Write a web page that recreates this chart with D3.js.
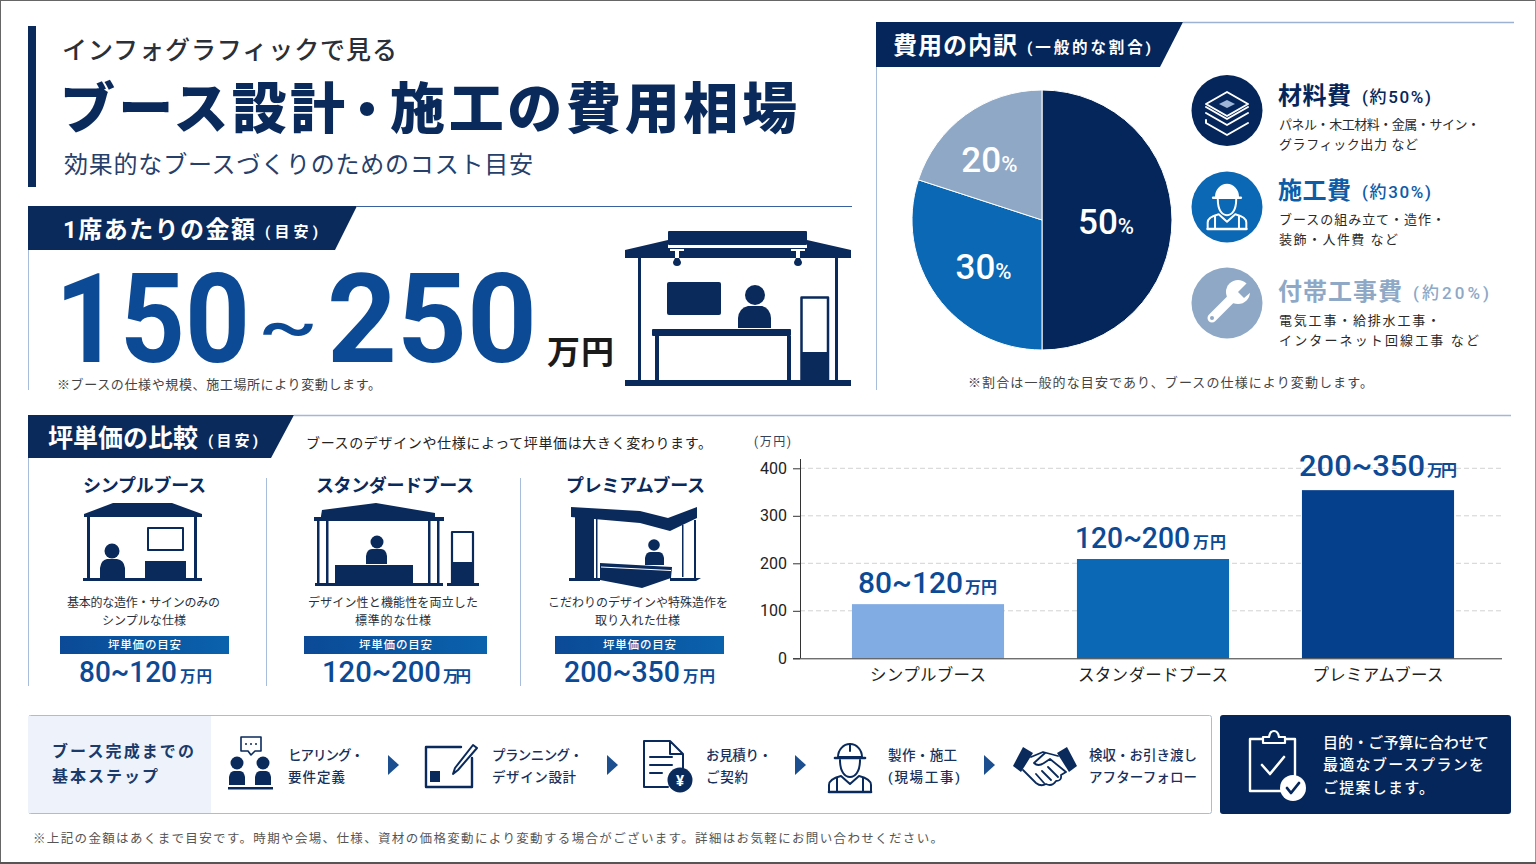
<!DOCTYPE html>
<html lang="ja"><head><meta charset="utf-8"><title>ブース設計・施工の費用相場</title>
<script src="https://cdn.jsdelivr.net/npm/d3@7"></script>
<style>html,body{margin:0;padding:0;background:#fff}svg{display:block}text{font-family:Roboto,"Noto Sans CJK JP","Noto Sans",sans-serif}</style>
</head><body><svg id="c" width="1536" height="864" viewBox="0 0 1536 864"></svg>
<script>
// ---- data ----
const pieNames = ["材料費","施工費","付帯工事費"];
const pieValues = [50,30,20];
const pieNotes = ["(約50%)","(約30%)","(約20%)"];
const pieDesc = [["パネル・木工材料・金属・サイン・","グラフィック出力 など"],["ブースの組み立て・造作・","装飾・人件費 など"],["電気工事・給排水工事・","インターネット回線工事 など"]];
const categories = ["シンプルブース","スタンダードブース","プレミアムブース"];
const barValues = [114,209,354];
const rangeLabels = ["80~120","120~200","200~350"];
const yTicks = [0,100,200,300,400];
const catDesc = [["基本的な造作・サインのみの","シンプルな仕様"],["デザイン性と機能性を両立した","標準的な仕様"],["こだわりのデザインや特殊造作を","取り入れた仕様"]];
const stepLabels = [["ヒアリング・","要件定義"],["プランニング・","デザイン設計"],["お見積り・","ご契約"],["製作・施工","(現場工事)"],["検収・お引き渡し","アフターフォロー"]];
const ctaLines = ["目的・ご予算に合わせて","最適なブースプランを","ご提案します。"];

// ---- palette ----
const NAVY="#0a2a5c", NAVY2="#04265a", BLUE="#0a68b4", DEEP="#0d4a96", GREY="#8ea8c6", LINE="#a8bcdc", BARS=["#80abe3","#0a68b4","#05408c"];
const svg=d3.select("#c");
const defs=svg.append("defs");
const grad=defs.append("linearGradient").attr("id","pill");
grad.append("stop").attr("offset","0").attr("stop-color","#0b4a96");
grad.append("stop").attr("offset","1").attr("stop-color","#0a62ad");

function T(p,x,y,s,o={}){
  const t=p.append("text").attr("x",x).attr("y",y).text(s)
    .attr("font-size",o.fs||14).attr("font-weight",o.fw||400).attr("fill",o.fill||"#222");
  if(o.a)t.attr("text-anchor",o.a);
  if(o.w){
    if(o.sq){
      const natural=t.node().getComputedTextLength();
      t.attr("x",0).attr("y",0).attr("transform",`translate(${x},${y}) scale(${o.w/natural},1)`);
    } else t.attr("textLength",o.w).attr("lengthAdjust","spacing");
  }
  return t;
}
const R=(p,x,y,w,h,f,rx)=>p.append("rect").attr("x",x).attr("y",y).attr("width",w).attr("height",h).attr("fill",f).attr("rx",rx||0);
const P=(p,d,f,s,sw)=>p.append("path").attr("d",d).attr("fill",f||"none").attr("stroke",s||"none").attr("stroke-width",sw||0).attr("stroke-linejoin","round").attr("stroke-linecap","round");
const C=(p,x,y,r,f)=>p.append("circle").attr("cx",x).attr("cy",y).attr("r",r).attr("fill",f);
const L=(p,x1,y1,x2,y2,s,sw)=>p.append("line").attr("x1",x1).attr("y1",y1).attr("x2",x2).attr("y2",y2).attr("stroke",s).attr("stroke-width",sw||1);

// ---- frame ----
L(svg,0,0.5,1536,0.5,"#666",1);L(svg,0.5,0,0.5,864,"#666",1);L(svg,1535.5,0,1535.5,864,"#999",1);L(svg,0,863,1536,863,"#555",2);

// ---- title ----
R(svg,28,26,8,161,NAVY);
T(svg,62,59,"インフォグラフィックで見る",{fs:25,fw:500,fill:"#2b2f38",w:335});
T(svg,60,128,"ブース設計",{fs:55,fw:900,fill:NAVY,w:285});
T(svg,367,128,"・",{fs:50,fw:900,fill:NAVY,a:"middle"});
T(svg,390,128,"施工の費用相場",{fs:55,fw:900,fill:NAVY,w:407});
T(svg,64,173,"効果的なブースづくりのためのコスト目安",{fs:24,fill:"#26406a",w:469});

// ---- per-seat section ----
P(svg,"M28,206H357L335,250H28Z",NAVY);
L(svg,357,206.5,852,206.5,"#3a619f",1);L(svg,28.5,250,28.5,390,LINE,1);
T(svg,63,238,"1席あたりの金額",{fs:24,fw:700,fill:"#fff",w:192});
T(svg,265,237,"(目安)",{fs:15,fw:700,fill:"#fff",w:53});
T(svg,55,362,"150",{fs:125,fw:700,fill:DEEP,w:195,sq:1});
T(svg,258,348,"~",{fs:64,fw:500,fill:DEEP,w:60,sq:1});
T(svg,327,362,"250",{fs:125,fw:700,fill:DEEP,w:210,sq:1});
T(svg,547,364,"万円",{fs:33,fw:700,fill:"#1a1a1a",w:67});
T(svg,57,389,"※ブースの仕様や規模、施工場所により変動します。",{fs:13,fill:"#444",w:324});

// big booth
(function(){const g=svg.append("g"),c=NAVY;
 R(g,668,231,139,14,c,1);
 P(g,"M668,240L625,250V258H851V250L807,240V248H668Z",c);
 L(g,668,246.5,807,246.5,"#fff",1.5);
 [677,798].forEach(x=>{R(g,x-7,249,14,2,"#fff");R(g,x-2,251,4,7,"#fff");P(g,`M${x-2},258h4l2,4a4,4 0 0 1-8,0z`,c);});
 R(g,638,258,3,124,c);R(g,835,258,3,124,c);
 R(g,667,282,54,33,c,2);
 C(g,755,295,10,c);P(g,"M738,328V318Q739,308 748,306H762Q770,308 771,318V328Z",c);
 R(g,652,329,139,7,c,1);R(g,655,336,4,46,c);R(g,787,336,4,46,c);
 P(g,"M801.5,297.5H828V380H801.5Z","none",c,2.5);R(g,801,352,28,30,c);
 R(g,625,380,226,6,c);
})();

// ---- breakdown section ----
P(svg,"M876,22H1183L1160,67H876Z",NAVY2);
L(svg,1183,22.5,1514,22.5,"#9db2d3",1.5);L(svg,876.5,67,876.5,390,LINE,1);
T(svg,893,54,"費用の内訳",{fs:24,fw:700,fill:"#fff",w:124});
T(svg,1027,53,"(一般的な割合)",{fs:15.5,fw:700,fill:"#fff",w:124});

const pieCols=[NAVY2,BLUE,GREY];
const pieG=svg.append("g").attr("transform","translate(1042,220)");
const arcs=d3.pie().sort(null)(pieValues);
const arc=d3.arc().innerRadius(0).outerRadius(130);
pieG.selectAll("path").data(arcs).join("path").attr("d",arc).attr("fill",(d,i)=>pieCols[i]).attr("stroke","#fff").attr("stroke-width",1);
const labelR=[64,76,76], labelOff=[[0,14],[3,14],[-8,13]];
pieG.selectAll("text").data(arcs).join("text").each(function(d,i){
  const [x,y]=d3.arc().innerRadius(labelR[i]).outerRadius(labelR[i]).centroid(d);
  const t=d3.select(this).attr("x",x+labelOff[i][0]).attr("y",y+labelOff[i][1]).attr("text-anchor","middle").attr("fill","#fff").attr("font-weight",500);
  t.append("tspan").attr("font-size",35).text(pieValues[i]);
  t.append("tspan").attr("font-size",22).text("%");
});

const legY=[110.5,207,303], legBase=[104,199,300], legNoteX=[1362,1362,1413], legNameW=[73,73,124], legNoteW=[69,69,76], legCols=[NAVY2,"#0d5ca8",GREY];
const descB=[[129,149],[224,244],[325,345]], descW=[[201,139],[166,119],[161,200]];
pieNames.forEach((n,i)=>{
  C(svg,1227,legY[i],35.5,i==0?NAVY2:pieCols[i]);
  T(svg,1278,legBase[i],n,{fs:24,fw:700,fill:legCols[i],w:legNameW[i]});
  T(svg,legNoteX[i],legBase[i]-1,pieNotes[i],{fs:17,fw:500,fill:legCols[i],w:legNoteW[i]});
  pieDesc[i].forEach((s,j)=>T(svg,1279,descB[i][j],s,{fs:13,fill:"#2a2a2a",w:descW[i][j]}));
});
T(svg,968,387,"※割合は一般的な目安であり、ブースの仕様により変動します。",{fs:13,fill:"#444",w:405});

function worker(g,cx,top,k,col,fillHelmet){
  const w=g.append("g").attr("transform",`translate(${cx},${top}) scale(${k})`);
  const sw=2/k;
  P(w,"M-12,15A12,13 0 0 1 12,15Z",fillHelmet?col:"none",col,sw);
  if(!fillHelmet)P(w,"M0,2V9",null,col,sw);
  P(w,"M-15,16H15",null,col,sw*1.3);
  P(w,"M-10,18C-10,30 -5,35 0,35C5,35 10,30 10,18",null,col,sw);
  P(w,"M-21,50V43Q-21,37 -9,34L0,42L9,34Q21,37 21,43V50Z",null,col,sw);
  P(w,"M-13,36V50M13,36V50",null,col,sw);
  P(w,"M-21,50H21",null,col,sw*1.3);
}
// icon layers
(function(){const g=svg.append("g").attr("transform","translate(1227,110)");
 const d="M0,-18L21,-6L0,6L-21,-6Z";
 P(g,"M-21,3L0,15L21,3",null,"#fff",2);
 P(g,"M-21,10V13L0,25L21,13",null,"#fff",2);
 P(g,"M-21,-3L0,9L21,-3",null,"#fff",2);
 P(g,d,NAVY2,"#fff",2);
 P(g,"M0,-10L8,-6L0,-2L-8,-6Z","#9db6d8");
})();
worker(svg,1227,183,0.92,"#fff",true);
// wrench
(function(){const g=svg.append("g");
 P(g,"M1212,318L1234,296",null,"#fff",9);
 C(g,1238,292,12,"#fff");
 P(g,"M1238,292L1252,278L1258,286L1244,298Z",GREY);
 C(g,1212,318,2,GREY);
})();

// ---- comparison section ----
P(svg,"M28,415H294L271,458H28Z",NAVY);
L(svg,294,415.5,1511,415.5,"#a3b7d6",1.5);L(svg,28.5,458,28.5,686,LINE,1);
T(svg,48,447,"坪単価の比較",{fs:25,fw:700,fill:"#fff",w:150});
T(svg,208,446,"(目安)",{fs:15,fw:700,fill:"#fff",w:50});
T(svg,306,448,"ブースのデザインや仕様によって坪単価は大きく変わります。",{fs:14,fill:"#222",w:406});
[266.5,520.5].forEach(x=>L(svg,x,478,x,686,LINE,1));

const colTitleX=[83,316,566], colTitleW=[123,158,139];
const descX=[[67,102],[308,355],[548,595]], descTW=[[153,84],[170,76],[180,85]];
const pillX=[60,304,555], pillW=[169,183,169];
const valX=[79,322,564], valW=[98,119,116], unitX=[180,443,683], unitW=[32,28,32];
categories.forEach((n,i)=>{
  T(svg,colTitleX[i],492,n,{fs:18,fw:700,fill:NAVY,w:colTitleW[i]});
  catDesc[i].forEach((s,j)=>T(svg,descX[i][j],607+j*18,s,{fs:12,fill:"#2a2f3a",w:descTW[i][j]}));
  R(svg,pillX[i],636,pillW[i],18,"url(#pill)");
  T(svg,pillX[i]+pillW[i]/2-36.5,649,"坪単価の目安",{fs:11.5,fw:500,fill:"#fff",w:73});
  T(svg,valX[i],682,rangeLabels[i],{fs:29,fw:500,fill:DEEP,w:valW[i],sq:1});
  T(svg,unitX[i],682,"万円",{fs:15.5,fw:700,fill:DEEP,w:unitW[i]});
});
// small booths
(function(){let g=svg.append("g"),c=NAVY;
 P(g,"M113,503H172L202,514V517H84V514Z",c);
 R(g,87,515,3,65,c);R(g,194,515,3,65,c);
 P(g,"M148,528H183V550H148Z","none",c,2);
 C(g,112,551,7.5,c);P(g,"M100,578V568Q101,560 107,559H117Q124,560 125,568V578Z",c);
 R(g,145,561,41,18,c);R(g,83,578,119,3,c);
 g=svg.append("g");
 P(g,"M321,516L322,510L376,503L435,513V517H321Z",c);
 R(g,314,517,130,4,c);
 [317,326,428,437].forEach(x=>R(g,x,521,2.5,63,c));
 C(g,377,542,6.5,c);P(g,"M366,564V556Q367,549 372,549H381Q386,549 387,556V564Z",c);
 R(g,335,565,78,19,c);R(g,315,583,128,3,c);
 P(g,"M452,532H473V583H452Z","none",c,2.2);R(g,451,562,23,21,c);R(g,447,583,32,3,c);
 g=svg.append("g");
 P(g,"M571,507L640,511L668,518L697,507V518L670,531L640,523L571,517Z",c);
 R(g,575,516,19,62,c);R(g,596,518,1.5,60,c);R(g,682,525,1.5,52,c);R(g,694,520,2,58,c);
 C(g,654,545,5.8,c);P(g,"M645,565V558Q646,552 650,552H659Q663,552 664,558V565Z",c);
 P(g,"M600,563L672,567L671,578L642,588L600,580Z",c);
 L(g,601,567,671,570.5,"#fff",1);
 P(g,"M569,578H600V581H569ZM670,578H701L696,581H670Z",c);
})();

// ---- bar chart ----
const x=d3.scaleBand().domain(categories).range([815.5,1490.5]).paddingInner(0.324).paddingOuter(0.162);
const y=d3.scaleLinear().domain([0,400]).range([658.3,468.3]);
T(svg,754,446,"(万円)",{fs:12,fill:"#33415c",w:37});
svg.append("g").selectAll("line").data(yTicks.filter(d=>d>0)).join("line")
  .attr("x1",800).attr("x2",1502).attr("y1",d=>y(d)).attr("y2",d=>y(d))
  .attr("stroke","#d2d2d2").attr("stroke-dasharray","5 3");
svg.append("g").selectAll("rect").data(barValues).join("rect")
  .attr("x",(d,i)=>x(categories[i])).attr("width",x.bandwidth())
  .attr("y",d=>y(d)).attr("height",d=>y(0)-y(d)).attr("fill",(d,i)=>BARS[i]);
const yAxis=svg.append("g").attr("transform","translate(800,0)")
  .call(d3.axisLeft(y).tickValues(yTicks).tickSize(7).tickPadding(6));
yAxis.select(".domain").attr("d",`M0.5,459V${y(0)}`).attr("stroke","#333");
yAxis.selectAll(".tick line").attr("stroke","#333");
yAxis.selectAll("text").attr("font-size",16).attr("fill","#222");
const xAxis=svg.append("g").attr("transform",`translate(0,${y(0)})`)
  .call(d3.axisBottom(x).tickSize(0).tickPadding(8));
xAxis.select(".domain").attr("d",`M793,0.5H1502`).attr("stroke","#333");
const xW=[116,150,131];
xAxis.selectAll("text").attr("font-size",16.5).attr("fill","#222").attr("dy",0).attr("y",23)
  .each(function(d,i){d3.select(this).attr("textLength",xW[i]).attr("lengthAdjust","spacing");});
const barNumW=[105,115,126], barNumOff=[-70,-78,-79], barUnitOff=[37,40,49], barUnitW=[32,33,30];
barValues.forEach((v,i)=>{
  const cx=x(categories[i])+x.bandwidth()/2, b=y(v)-11-(i==2?3:0);
  T(svg,cx+barNumOff[i],b,rangeLabels[i],{fs:30,fw:500,fill:DEEP,w:barNumW[i],sq:1});
  T(svg,cx+barUnitOff[i],b,"万円",{fs:16,fw:700,fill:DEEP,w:barUnitW[i]});
});

// ---- steps ----
R(svg,28.5,715.5,1183,98,"#fff",2).attr("stroke",LINE);
R(svg,28,716,183,97,"#eef3fb");
T(svg,52,757,"ブース完成までの",{fs:16,fw:700,fill:"#1b3a6a",w:142});
T(svg,52,782,"基本ステップ",{fs:16,fw:700,fill:"#1b3a6a",w:106});
const stepX=[288,492,706,888,1089], stepW=[[76,57],[91,84],[66,42],[69,72],[108,108]];
stepLabels.forEach((ls,i)=>ls.forEach((s,j)=>T(svg,stepX[i],760+j*22,s,{fs:13.5,fw:500,fill:"#17305c",w:stepW[i][j]})));
[388,607,795,984].forEach(a=>P(svg,`M${a},755L${a+11},765L${a},775Z`,"#1c4f90"));
(function(){const c=NAVY;let g=svg.append("g");
 // meeting
 P(g,"M241,737H261V751H255L251,755L248,751H241Z","none",c,1.6);
 [246,251,256].forEach(a=>C(g,a,744,1,c));
 [237,263].forEach(a=>{C(g,a,763,6.5,c);P(g,`M${a-8},785V777Q${a-7},771 ${a-3},771H${a+3}Q${a+7},771 ${a+8},777V785Z`,c);});
 R(g,228,787,45,2.5,c);
 // plan
 P(g,"M461,747H426V787H472V758","none",c,2.4);
 R(g,430,771,10,11,c);
 P(g,"M455,768L473,745L477,748L458,770L453,774Z","#fff",c,2);
 // doc
 P(g,"M670,741H644V787H668M670,741L683,754V768M670,741V754H683","none",c,2);
 P(g,"M650,757H672M650,765H672M650,773H662",null,c,2);
 C(g,680,780,12.5,c);
 T(g,680,785.5,"¥",{fs:15,fw:700,fill:"#fff",a:"middle"});
 // engineer
 worker(g,850,742,1,c,false);
 // handshake
 P(g,"M1023,747L1033,753L1021,772L1013,766Z",c);
 P(g,"M1067,747L1057,753L1069,772L1077,766Z",c);
 P(g,"M1031,757L1043,752L1058,756M1045,753L1034,763Q1038,767 1044,763L1050,759L1066,772M1023,770L1036,783Q1041,787 1046,784Q1052,787 1056,781Q1062,781 1061,775L1066,772M1036,774L1044,783M1042,771L1051,780M1048,767L1058,777",null,c,1.8);
})();

// ---- call to action ----
R(svg,1220,715,291,99,NAVY2,3);
ctaLines.forEach((s,i)=>T(svg,1323,[748,770,793][i],s,{fs:15,fw:500,fill:"#fff",w:[166,161,111][i]}));
(function(){const g=svg.append("g"),c="#fff";
 P(g,"M1262,739H1250V791H1282M1286,739H1295V775","none",c,2.4);
 P(g,"M1263,743V737H1269Q1270,731 1274,731Q1278,731 1279,737H1285V743Z",NAVY2,c,2.2);
 P(g,"M1262,765L1270,774L1284,757",null,c,2.6);
 C(g,1293,788,13,c);
 P(g,"M1287,788L1291,793L1299,783",null,NAVY2,2.8);
})();

T(svg,33,843,"※上記の金額はあくまで目安です。時期や会場、仕様、資材の価格変動により変動する場合がございます。詳細はお気軽にお問い合わせください。",{fs:12.5,fill:"#555",w:910});
</script></body></html>
